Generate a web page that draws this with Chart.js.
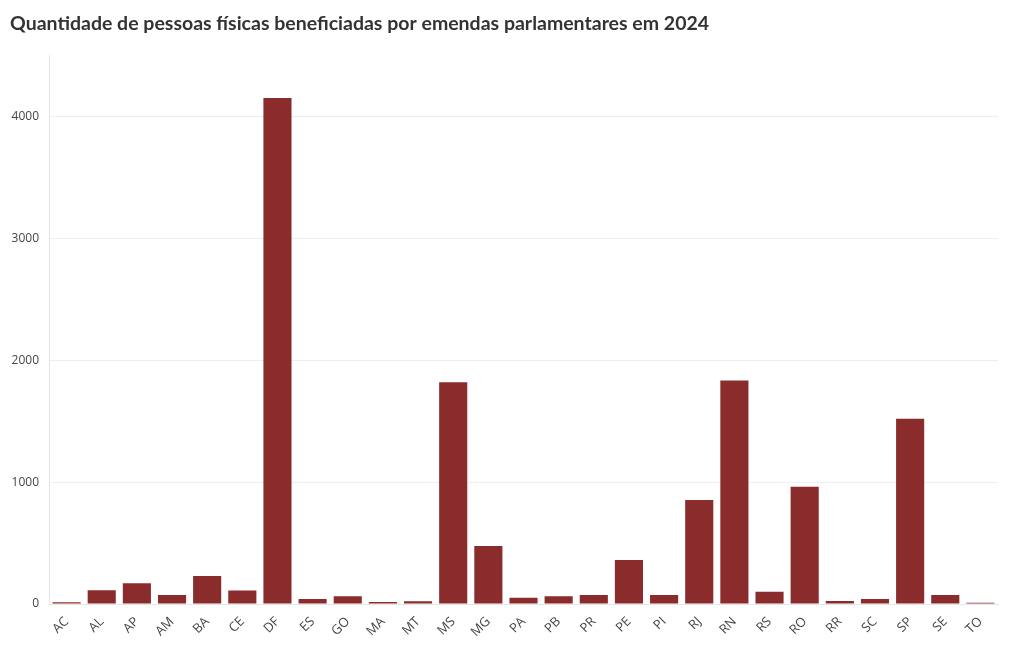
<!DOCTYPE html>
<html>
<head>
<meta charset="utf-8">
<script src="https://cdn.jsdelivr.net/npm/chart.js@4"></script>
<style>
  html, body { margin: 0; padding: 0; background: #fff; }
  #wrap { width: 1020px; height: 650px; position: relative; }
</style>
</head>
<body>
<div id="wrap"><canvas id="grafico"></canvas></div>
<script>
const estados = ['AC', 'AL', 'AP', 'AM', 'BA', 'CE', 'DF', 'ES', 'GO', 'MA', 'MT', 'MS', 'MG', 'PA',
  'PB', 'PR', 'PE', 'PI', 'RJ', 'RN', 'RS', 'RO', 'RR', 'SC', 'SP', 'SE', 'TO'];
const pessoas = [15, 112, 170, 74, 230, 110, 4150, 41, 63, 16, 22, 1820, 476, 52,
  63, 74, 361, 74, 854, 1834, 101, 961, 25, 41, 1520, 74, 11];
const marcasY = [0, 1000, 2000, 3000, 4000];

const corBarra = '#8b2c2c';

const grafico = new Chart(document.getElementById('grafico'), {
  type: 'bar',
  data: {
    labels: estados,
    datasets: [{
      data: pessoas,
      backgroundColor: corBarra,
      borderWidth: 0,
      barPercentage: 0.8,
      categoryPercentage: 1.0,
    }]
  },
  options: {
    responsive: true,
    maintainAspectRatio: false,
    animation: false,
    layout: { padding: { left: 10, right: 22, top: 0, bottom: 8 } },
    plugins: {
      legend: { display: false },
      tooltip: { enabled: false },
      title: {
        display: true,
        text: 'Quantidade de pessoas físicas beneficiadas por emendas parlamentares em 2024',
        align: 'start',
        color: '#333',
        font: { family: 'Lato', size: 19.5, weight: 'bold' },
        padding: { top: 12, bottom: 20 },
      },
    },
    scales: {
      x: {
        grid: { display: false },
        border: { color: '#e6e6e6' },
        ticks: {
          color: '#444',
          font: { family: 'Open Sans', size: 13 },
          maxRotation: 45,
          minRotation: 45,
          padding: 2,
        },
      },
      y: {
        min: 0,
        max: 4500,
        afterBuildTicks: (escala) => {
          escala.ticks = marcasY.map(v => ({ value: v }));
        },
        afterFit: (escala) => { escala.width = 39; },
        grid: { color: '#eeeeee', drawTicks: false },
        border: { color: '#e6e6e6' },
        ticks: {
          color: '#444',
          font: { family: 'Open Sans', size: 12 },
          padding: 10,
          callback: (v) => String(v),
        },
      },
    },
  },
});
</script>
</body>
</html>
